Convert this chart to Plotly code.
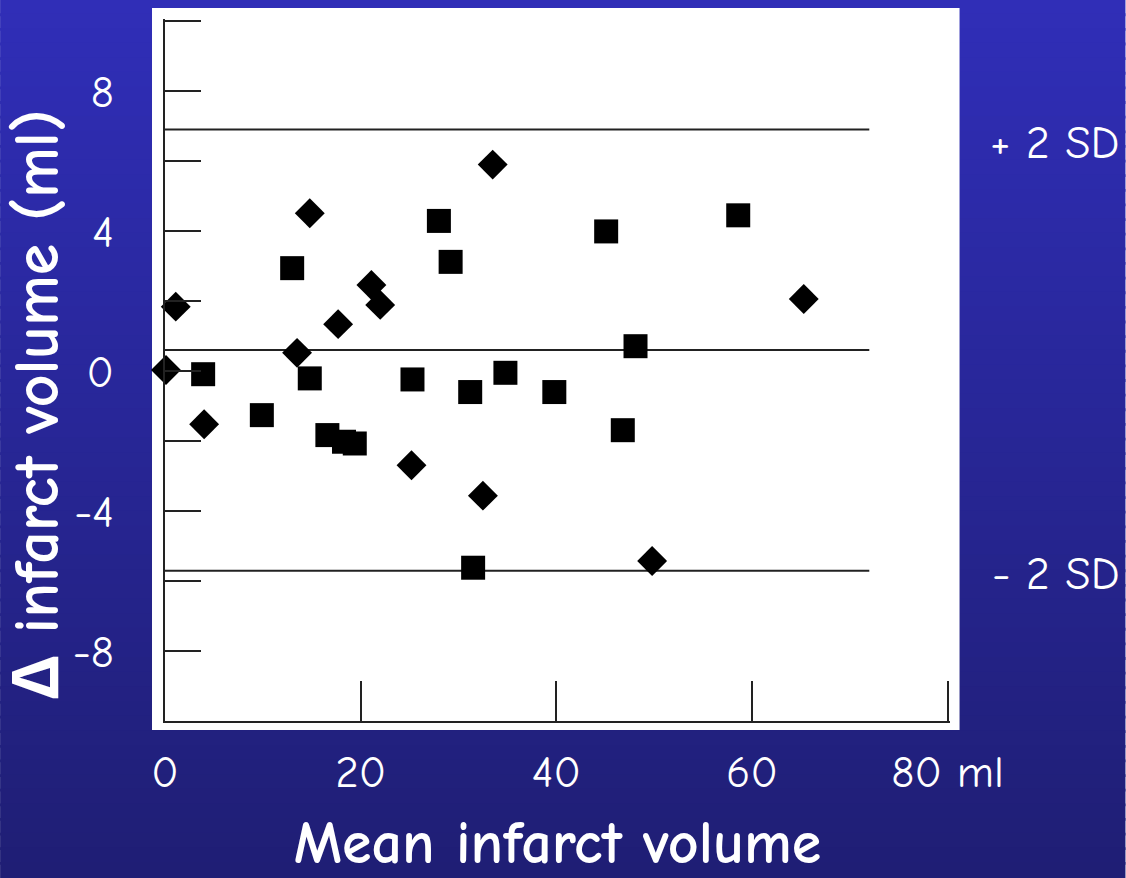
import plotly.graph_objects as go

# ---- data ----
diamond_x = [0.1, 1.1, 4.0, 13.5, 14.8, 17.7, 21.1, 22.0, 25.2, 32.5, 33.5, 49.8, 65.3]
diamond_y = [0.03, 1.84, -1.52, 0.52, 4.51, 1.34, 2.46, 1.89, -2.69, -3.56, 5.9, -5.43, 2.06]

square_x = [3.9, 9.9, 13.0, 14.8, 16.6, 18.3, 19.4, 25.3, 28.0, 29.2, 31.2, 31.5, 34.8, 39.8, 45.1, 46.8, 48.1, 58.6]
square_y = [-0.09, -1.26, 2.94, -0.21, -1.83, -2.02, -2.07, -0.24, 4.29, 3.12, -0.6, -5.62, -0.05, -0.6, 3.99, -1.69, 0.71, 4.45]

mean_diff = 0.6
upper_sd = 6.9
lower_sd = -5.71
line_end_x = 72

x_tickvals = [0, 20, 40, 60, 80]
x_ticktext = ["0", "20", "40", "60", "80 ml"]
y_tickvals = [-8, -4, 0, 4, 8]
y_ticktext = ["-8", "-4", "0", "4", "8"]

FONT = "Comic Sans MS, Comic Neue, Noto Sans, DejaVu Sans, sans-serif"

W, H = 1126, 878
X_MIN, X_MAX = 0, 80.25
Y_MIN, Y_MAX = -10, 10.06
# pixel geometry of the axes: x=0 at 165px, 9.79 px/unit; y=0 at 371px, 35 px/unit
ML = 165
PW = 9.7875 * (X_MAX - X_MIN)
MR = W - ML - PW
MB = H - 721
PH = 35 * (Y_MAX - Y_MIN)
MT = H - MB - PH

def px_x(p):
    return (p - ML) / PW

def px_y(p):
    return (H - MB - p) / PH

fig = go.Figure()

# agreement lines
for yv in [upper_sd, mean_diff, lower_sd]:
    fig.add_trace(go.Scatter(x=[0, line_end_x], y=[yv, yv], mode="lines",
                             line=dict(color="#222222", width=2),
                             hoverinfo="skip", showlegend=False))

fig.add_trace(go.Scatter(x=diamond_x, y=diamond_y, mode="markers",
                         marker=dict(symbol="diamond", size=23, color="black"),
                         cliponaxis=False, showlegend=False, name="diamonds"))
fig.add_trace(go.Scatter(x=square_x, y=square_y, mode="markers",
                         marker=dict(symbol="square", size=24, color="black"),
                         cliponaxis=False, showlegend=False, name="squares"))

shapes = []
# gradient background
top = (48, 46, 184)
bot = (31, 30, 116)
N = 60
y_top = px_y(0)
y_bot = px_y(H)
for i in range(N):
    t = (i + 0.5) / N
    c = tuple(round(top[k] + (bot[k] - top[k]) * t) for k in range(3))
    y1 = y_top + (y_bot - y_top) * i / N
    y0 = y_top + (y_bot - y_top) * (i + 1) / N
    shapes.append(dict(type="rect", xref="paper", yref="paper",
                       x0=px_x(0), x1=px_x(W), y0=y0 - 0.002, y1=y1 + 0.002,
                       fillcolor="rgb(%d,%d,%d)" % c, line=dict(width=0), layer="below"))
# white panel
shapes.append(dict(type="rect", xref="paper", yref="paper",
                   x0=px_x(152), x1=px_x(960), y0=px_y(730), y1=px_y(8),
                   fillcolor="white", line=dict(width=0), layer="below"))

fig.update_layout(
    width=W, height=H,
    margin=dict(l=ML, r=MR, t=MT, b=MB, autoexpand=False),
    paper_bgcolor="rgba(0,0,0,0)",
    plot_bgcolor="rgba(0,0,0,0)",
    shapes=shapes,
    showlegend=False,
    font=dict(family=FONT, color="white"),
    xaxis=dict(
        range=[X_MIN, X_MAX], showgrid=False, zeroline=False,
        showline=True, linecolor="#222222", linewidth=2,
        tickvals=x_tickvals, ticktext=x_ticktext,
        ticks="inside", ticklen=40, tickwidth=2, tickcolor="#222222",
        ticklabelstandoff=10,
        tickfont=dict(size=45, color="white", family=FONT),
        title=dict(text="<b>Mean infarct volume</b>", standoff=33,
                   font=dict(size=60, color="white", family=FONT, weight="bold")),
    ),
    yaxis=dict(
        range=[Y_MIN, Y_MAX], showgrid=False, zeroline=False,
        showline=True, linecolor="#222222", linewidth=2,
        tickvals=y_tickvals, ticktext=y_ticktext,
        ticks="inside", ticklen=36, tickwidth=2, tickcolor="#222222",
        minor=dict(tickvals=[-10, -6, -2, 2, 6, 10], ticks="inside", ticklen=36,
                   tickwidth=2, tickcolor="#222222"),
        ticklabelstandoff=40,
        tickfont=dict(size=45, color="white", family=FONT),
        title=dict(text="<b>\u0394 infarct volume (ml)</b>&nbsp;&nbsp;&nbsp;", standoff=14,
                   font=dict(size=64, color="white", family=FONT, weight="bold")),
    ),
    annotations=[
        dict(text="+ 2 SD", xref="paper", yref="y", x=px_x(988), y=upper_sd - 0.4,
             xanchor="left", yanchor="middle", showarrow=False,
             font=dict(size=46, color="white", family=FONT)),
        dict(text="- 2 SD", xref="paper", yref="y", x=px_x(990), y=lower_sd - 0.1,
             xanchor="left", yanchor="middle", showarrow=False,
             font=dict(size=46, color="white", family=FONT)),
    ],
)

fig.write_html("out.html")
